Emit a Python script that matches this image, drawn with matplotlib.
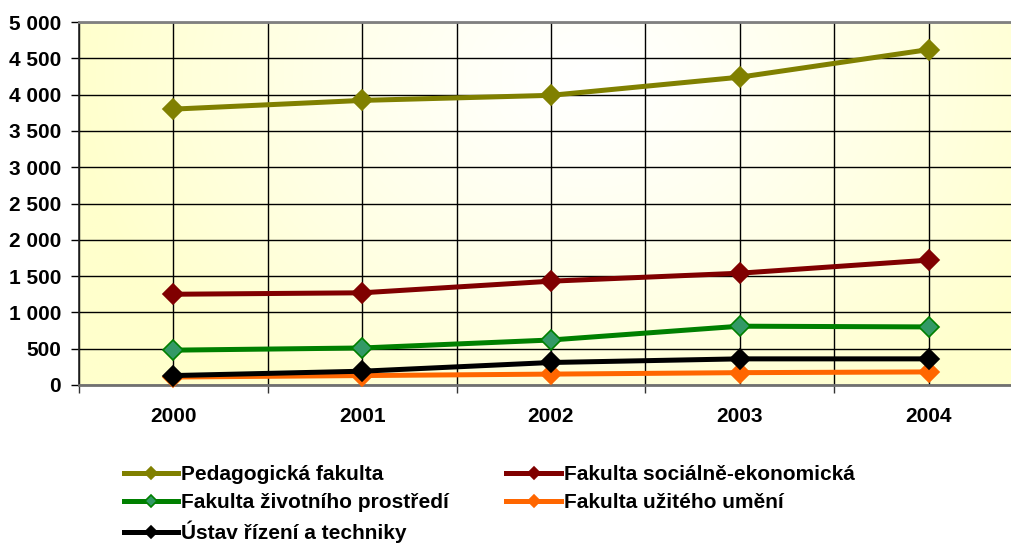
import numpy as np
import matplotlib
matplotlib.use("Agg")
import matplotlib.pyplot as plt
from matplotlib.ticker import FuncFormatter, MultipleLocator, FixedLocator

plt.rcParams['font.family'] = ['Liberation Sans', 'DejaVu Sans']
plt.rcParams['font.weight'] = 'bold'

years = ["2000", "2001", "2002", "2003", "2004"]
series_names = ["Pedagogická fakulta", "Fakulta sociálně-ekonomická",
                "Fakulta životního prostředí", "Fakulta užitého umění",
                "Ústav řízení a techniky"]
pedagogicka = [3800, 3920, 3990, 4240, 4620]
socialne_ekonomicka = [1250, 1270, 1430, 1540, 1720]
zivotniho_prostredi = [480, 510, 620, 810, 800]
uziteho_umeni = [110, 130, 150, 170, 180]
ustav_rizeni = [130, 190, 310, 360, 360]

W, H = 1011, 543
fig = plt.figure(figsize=(W / 100, H / 100), dpi=100)
fig.patch.set_facecolor('white')
L, R, T, B = 79, 1023, 22, 385
ax = fig.add_axes([L / W, 1 - B / H, (R - L) / W, (B - T) / H])

# background gradient
ny, nx = 200, 400
yy, xx = np.mgrid[0:1:ny * 1j, 0:1:nx * 1j]
d = np.sqrt(((xx - 0.54) / 0.55) ** 2 + ((yy - 0.15) / 1.1) ** 2)
t = np.clip(d, 0, 1) ** 1.2
white = np.array([1.0, 1.0, 1.0])
yellow = np.array([1.0, 1.0, 0.80])
img = white[None, None, :] * (1 - t[..., None]) + yellow[None, None, :] * t[..., None]
ax.imshow(img, extent=[0, 1, 0, 1], transform=ax.transAxes, aspect='auto',
          zorder=0, origin='upper')

x = np.arange(len(years))
styles = [
    (pedagogicka, '#808000', '#808000', '#808000'),
    (socialne_ekonomicka, '#800000', '#800000', '#800000'),
    (zivotniho_prostredi, '#008000', '#339966', '#008000'),
    (uziteho_umeni, '#FF6600', '#FF6600', '#FF6600'),
    (ustav_rizeni, '#000000', '#000000', '#000000'),
]
handles = []
for (vals, lc, mfc, mec), name in zip(styles, series_names):
    h, = ax.plot(x, vals, color=lc, lw=3.6, marker='D', markersize=10,
                 markerfacecolor=mfc, markeredgecolor=mec, markeredgewidth=1.2,
                 label=name, zorder=3, clip_on=False)
    handles.append(h)

ax.set_xlim(-0.5, 4.5)
ax.set_ylim(0, 5000)
ax.yaxis.set_major_locator(MultipleLocator(500))
ax.yaxis.set_major_formatter(FuncFormatter(lambda v, p: f"{int(v):,}".replace(",", " ")))
ax.xaxis.set_major_locator(FixedLocator(np.arange(-0.5, 5.0, 1.0)))
ax.xaxis.set_minor_locator(FixedLocator(x))
ax.set_xticklabels([], minor=False)
ax.set_xticks(x, years, minor=True)
ax.tick_params(axis='x', which='major', length=6, width=1, direction='out', color='#333333')
ax.tick_params(axis='x', which='minor', length=0, pad=16, labelsize=15)
ax.tick_params(axis='y', which='major', length=6, width=1, direction='out', pad=7, labelsize=15)
for lab in ax.get_xticklabels(minor=True) + ax.get_yticklabels():
    lab.set_fontweight('bold')

ax.grid(True, which='major', axis='y', color='black', lw=1, zorder=1)
ax.grid(True, which='both', axis='x', color='black', lw=1, zorder=1)
ax.set_axisbelow(True)

ax.spines['left'].set_color('#222222')
ax.spines['left'].set_linewidth(1.2)
ax.spines['bottom'].set_color('#707070')
ax.spines['bottom'].set_linewidth(2)
ax.spines['top'].set_color('#808080')
ax.spines['top'].set_linewidth(2)
ax.spines['right'].set_visible(False)

order = [0, 2, 4, 1, 3]
leg = fig.legend([handles[i] for i in order], [series_names[i] for i in order],
                 ncol=2, loc='upper left', bbox_to_anchor=(124 / W, 1 - 465 / H),
                 frameon=False, handlelength=2.6, handletextpad=0.15,
                 labelspacing=0.43, columnspacing=2.75, borderaxespad=0, borderpad=0,
                 markerscale=0.65,
                 prop={'weight': 'bold', 'size': 15})

fig.savefig('out.png', dpi=100)
